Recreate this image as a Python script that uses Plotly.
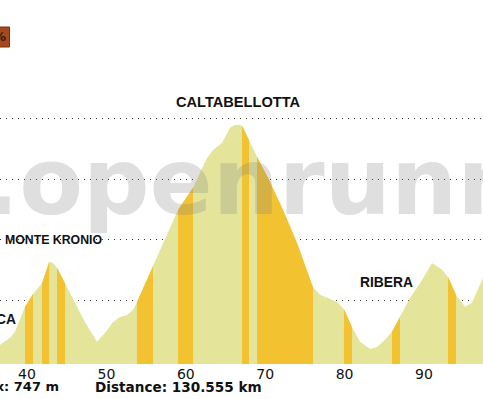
import plotly.graph_objects as go

# Distance (km) and elevation (m) read from the profile
km = [36.60, 37.86, 38.49, 39.75, 40.76, 41.89, 42.80, 43.28, 43.78, 44.79,
      46.05, 47.31, 48.82, 49.82, 50.83, 51.71, 52.59, 53.35, 53.85, 55.49,
      55.87, 57.38, 59.02, 60.91, 62.67, 63.43, 64.56, 65.57, 66.20, 66.83,
      67.08, 67.96, 68.97, 70.60, 72.24, 74.01, 76.02, 76.90, 77.78, 79.04,
      79.92, 80.93, 81.94, 83.20, 84.08, 85.09, 85.97, 86.98, 88.24, 89.50,
      91.01, 92.27, 93.02, 94.03, 95.16, 96.04, 97.05, 97.43]
elev = [188, 206, 221, 283, 315, 342, 395, 392, 380, 342,
        293, 245, 196, 218, 245, 258, 263, 275, 295, 367,
        384, 449, 524, 579, 653, 673, 690, 728, 735, 735,
        733, 698, 656, 594, 524, 442, 332, 313, 305, 295,
        277, 233, 196, 178, 183, 201, 221, 258, 305, 342,
        392, 375, 357, 313, 283, 293, 337, 355]

# steep sections (start km, end km)
steep_start = [39.75, 41.89, 43.78, 53.85, 59.02, 67.08, 68.97, 79.92, 85.97, 93.02]
steep_end = [40.76, 42.80, 44.79, 55.87, 60.91, 67.96, 76.02, 80.93, 86.98, 94.03]

tick_vals = [40, 50, 60, 70, 80, 90]
grid_vals = [300, 450, 600, 750]

place_names = ["CALTABELLOTTA", "MONTE KRONIO", "RIBERA", "SCIACCA"]

LIGHT = "#e4e49b"
STEEP = "#f2c231"

fig = go.Figure()
fig.add_trace(go.Scatter(x=km, y=elev, mode="lines", fill="tozeroy",
                         line=dict(width=0, color=LIGHT), fillcolor=LIGHT,
                         hoverinfo="skip", showlegend=False))
for s, e in zip(steep_start, steep_end):
    xs = [k for k in km if s - 1e-9 <= k <= e + 1e-9]
    ys = [v for k, v in zip(km, elev) if s - 1e-9 <= k <= e + 1e-9]
    fig.add_trace(go.Scatter(x=xs, y=ys, mode="lines", fill="tozeroy",
                             line=dict(width=0, color=STEEP), fillcolor=STEEP,
                             hoverinfo="skip", showlegend=False))

W, H = 483, 399
T, B = 20, 35
plot_h = H - T - B


def py(p):
    return (H - B - p) / plot_h


def px(p):
    return p / W


LBL = dict(family="Liberation Sans, Arial, sans-serif", color="#111111")
ann = []
ann.append(dict(text="<b>www.openrunner.com</b>", x=px(-270), y=py(182), xref="paper", yref="paper",
                xanchor="left", yanchor="middle", showarrow=False,
                font=dict(family="DejaVu Sans, Verdana, sans-serif", size=93,
                          color="rgba(128,128,128,0.25)")))
ann.append(dict(text="<b>%s</b>" % place_names[0], x=px(237.5), y=py(102), xref="paper", yref="paper",
                xanchor="center", yanchor="middle", showarrow=False, font=dict(size=14.6, **LBL)))
ann.append(dict(text="<b>%s</b>" % place_names[1], x=px(53.5), y=py(240), xref="paper", yref="paper",
                xanchor="center", yanchor="middle", showarrow=False, font=dict(size=12.3, **LBL)))
ann.append(dict(text="<b>%s</b>" % place_names[2], x=px(386.5), y=py(282), xref="paper", yref="paper",
                xanchor="center", yanchor="middle", showarrow=False, font=dict(size=13.8, **LBL)))
ann.append(dict(text="<b>%s</b>" % place_names[3], x=px(18), y=py(319), xref="paper", yref="paper",
                xanchor="right", yanchor="middle", showarrow=False, font=dict(size=13.8, **LBL)))
BOT = dict(family="DejaVu Sans, Verdana, sans-serif", color="#111111", size=13.6)
ann.append(dict(text="<b>Max: 747 m</b>", x=px(61), y=py(387), xref="paper", yref="paper",
                xanchor="right", yanchor="middle", showarrow=False,
                font=dict(family="DejaVu Sans, Verdana, sans-serif", color="#111111", size=13)))
ann.append(dict(text="<b>Distance: 130.555 km</b>", x=px(93), y=py(387), xref="paper", yref="paper",
                xanchor="left", yanchor="middle", showarrow=False, font=BOT))
ann.append(dict(text="<b>15%</b>", x=px(8), y=py(37), xref="paper", yref="paper",
                xanchor="right", yanchor="middle", showarrow=False,
                font=dict(family="DejaVu Sans, Verdana, sans-serif", size=13, color="#3a1a08")))

shapes = [dict(type="rect", xref="paper", yref="paper", x0=px(-40), x1=px(9.5),
               y0=py(47), y1=py(27), fillcolor="#a4491c", line=dict(color="#7a3010", width=1),
               layer="below")]

fig.update_layout(
    width=W, height=H,
    margin=dict(l=0, r=0, t=T, b=B, pad=0),
    paper_bgcolor="white", plot_bgcolor="white",
    showlegend=False,
    annotations=ann, shapes=shapes,
    xaxis=dict(range=[36.6, 97.43], tickvals=tick_vals, ticks="", showgrid=False,
               zeroline=False, showline=False,
               tickfont=dict(family="DejaVu Sans, Verdana, sans-serif", size=14, color="#111111")),
    yaxis=dict(range=[141, 996], tickvals=grid_vals, showticklabels=False, ticks="",
               showgrid=True, gridcolor="#333333", gridwidth=1, griddash="1px,5px",
               zeroline=False, showline=False),
)

fig.write_html("out.html", config={"displayModeBar": False},
               post_script="document.body.style.margin='0';document.body.style.overflow='hidden';")
